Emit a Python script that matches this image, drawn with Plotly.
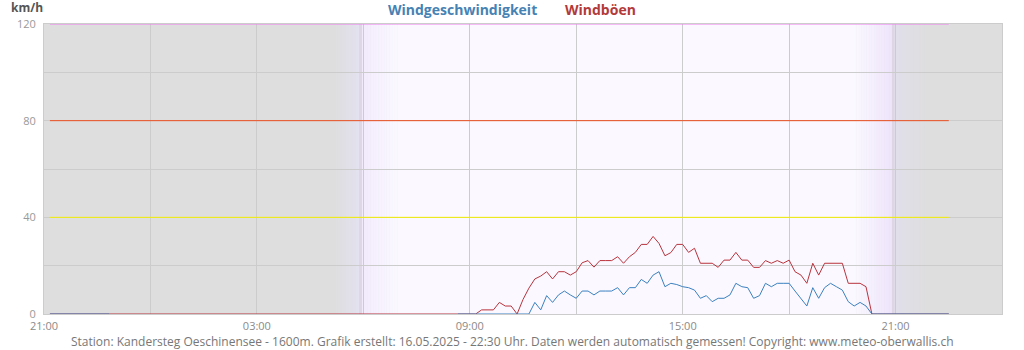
import pandas as pd
import plotly.graph_objects as go
from datetime import datetime, timedelta

# ---------------- data ----------------
day_times = pd.date_range("2025-05-16 08:40", "2025-05-16 22:30", freq="10min")

red_day = [0, 0, 0, 0,
           1.7, 1.7, 1.7, 4.8, 3.3, 3.3, 0,
           6.0, 10.7, 14.5, 15.7, 17.5, 14.5, 17.5, 17.5, 16.1, 17.5,
           21.2, 22.1, 19.4, 22.1, 22.1, 22.1, 23.7, 21.0, 23.7, 25.5,
           28.8, 28.8, 32.1, 29.2, 24.1, 25.4, 28.8, 28.8, 25.5, 27.2,
           21.0, 21.0, 21.0, 19.3, 22.3, 22.3, 25.5, 22.3, 22.3, 19.3,
           19.3, 22.1, 21.0, 22.1, 21.0, 22.3, 17.5, 16.1, 12.7, 21.0,
           16.1, 21.0, 21.0, 21.0, 21.0, 12.7, 12.7, 12.7, 11.3,
           0, 0, 0, 0, 0, 0, 0, 0, 0, 0, 0, 0, 0, 0]

blue_day = [0, 0, 0, 0, 0, 0, 0, 0, 0, 0, 0, 0, 0,
            4.8, 1.7, 7.6, 4.8, 7.9, 9.5, 7.9, 6.5, 9.5, 9.5,
            7.9, 9.5, 9.5, 9.5, 10.9, 7.9, 10.9, 10.9, 14.3, 12.7,
            16.1, 17.5, 11.3, 12.7, 12.2, 11.3, 10.9, 9.9, 6.5, 7.6,
            5.1, 6.5, 6.5, 7.9, 12.7, 11.3, 10.9, 6.5, 7.6, 12.7,
            11.3, 12.7, 12.7, 12.7, 9.5, 6.5, 3.3, 10.9, 6.5, 10.9,
            12.7, 11.3, 9.9, 5.1, 3.3, 4.8, 3.3,
            0, 0, 0, 0, 0, 0, 0, 0, 0, 0, 0, 0, 0, 0]

red_night_times = ["2025-05-15 21:10", "2025-05-16 08:30"]
red_night = [0, 0]
blue_night_times = ["2025-05-15 21:10", "2025-05-15 22:50", "2025-05-15 23:00"]
blue_night = [0, 0, None]

tick_times = ["2025-05-15 21:00", "2025-05-16 00:00", "2025-05-16 03:00",
              "2025-05-16 06:00", "2025-05-16 09:00", "2025-05-16 12:00",
              "2025-05-16 15:00", "2025-05-16 18:00", "2025-05-16 21:00",
              "2025-05-17 00:00"]
tick_text = ["21:00", "", "03:00", "", "09:00", "", "15:00", "", "21:00", ""]
y_ticks = [0, 20, 40, 60, 80, 100, 120]
y_text = ["0", "", "40", "", "80", "", "120"]

thresholds = [120, 80, 40]
threshold_colors = ["#f07ef0", "#ea4f1f", "#f2ee00"]
line_start, line_end = "2025-05-15 21:10", "2025-05-16 22:30"

footer = ("Station: Kandersteg Oeschinensee - 1600m. Grafik erstellt: 16.05.2025 - 22:30 Uhr. "
          "Daten werden automatisch gemessen! Copyright: www.meteo-oberwallis.ch")

# ---------------- figure ----------------
base = datetime(2025, 5, 15, 21, 0)
FONT = "Open Sans"

def t(h):
    return base + timedelta(hours=h)

def hexrgb(c):
    c = c.lstrip("#")
    return [int(c[i:i + 2], 16) for i in (0, 2, 4)]

shapes = []

def rect(h0, h1, color):
    shapes.append(dict(type="rect", xref="x", yref="paper", x0=t(h0), x1=t(h1),
                       y0=0, y1=1, fillcolor=color, line=dict(width=0), layer="below"))

def grad(h0, h1, c0, c1, n=24):
    a, b = hexrgb(c0), hexrgb(c1)
    for i in range(n):
        f = (i + 0.5) / n
        col = "rgb(%d,%d,%d)" % tuple(round(a[k] + (b[k] - a[k]) * f) for k in range(3))
        rect(h0 + (h1 - h0) * i / n, h0 + (h1 - h0) * (i + 1) / n + 0.01, col)

GRAY = "#dedede"
DAY = "#fbf9ff"
rect(0, 8.2, GRAY)
grad(8.17, 8.90, GRAY, "#e4e1f1")
grad(8.93, 10.0, "#f2eafd", DAY)
rect(10.0, 22.8, DAY)
grad(22.8, 23.92, DAY, "#eee4fb")
grad(23.95, 24.9, "#e1dfeb", GRAY)
rect(24.9, 27, GRAY)
rect(8.88, 8.96, "#ded6e4")
rect(23.90, 23.97, "#ded6e4")

for v, c in zip(thresholds, threshold_colors):
    shapes.append(dict(type="line", xref="x", yref="y", x0=line_start, x1=line_end,
                       y0=v, y1=v, line=dict(color=c, width=1), layer="above"))

fig = go.Figure()
fig.add_trace(go.Scatter(x=list(red_night_times) + list(day_times), y=red_night + red_day,
                         mode="lines", line=dict(color="#b8323c", width=1),
                         name="Windböen", connectgaps=False))
fig.add_trace(go.Scatter(x=list(blue_night_times) + list(day_times), y=blue_night + blue_day,
                         mode="lines", line=dict(color="#3a80c0", width=1),
                         name="Windgeschwindigkeit", connectgaps=False))

L, R, T, B = 44, 22, 24, 36
W, H = 1024, 350
pw, ph = W - L - R, H - T - B

def px(x):
    return (x - L) / pw

def py(y):
    return (H - B - y) / ph

def note(text, x, y, size, color):
    return dict(text=text, x=px(x), y=py(y), xref="paper", yref="paper",
                xanchor="center", yanchor="middle", showarrow=False,
                font=dict(family=FONT, size=size, color=color))

annotations = [
    note("<b>km/h</b>", 27, 8, 12, "#555555"),
    note("<b>Windgeschwindigkeit</b>", 462, 10, 14, "#4682b4"),
    note("<b>Windböen</b>", 600, 10, 14, "#b33a3a"),
    note(footer, 512, 341, 12, "#777777"),
]

fig.update_layout(
    width=W, height=H,
    margin=dict(l=L, r=R, t=T, b=B, pad=0),
    paper_bgcolor="white", plot_bgcolor=GRAY,
    showlegend=False,
    shapes=shapes, annotations=annotations,
    font=dict(family=FONT, size=11, color="#999999"),
    xaxis=dict(type="date", range=[t(0), t(27)], tickvals=tick_times, ticktext=tick_text,
               showgrid=True, gridcolor="#cccccc", gridwidth=1,
               showline=True, linecolor="#cccccc", mirror=True, zeroline=False,
               ticks="", ticklabelstandoff=2,
               tickfont=dict(family=FONT, size=11, color="#8a8a8a"),
               fixedrange=True),
    yaxis=dict(range=[0, 120], tickvals=y_ticks, ticktext=y_text,
               showgrid=True, gridcolor="#cccccc", gridwidth=1,
               showline=True, linecolor="#cccccc", mirror=True, zeroline=False,
               ticks="outside", ticklen=5, tickcolor="rgba(0,0,0,0)",
               tickfont=dict(family=FONT, size=11, color="#999999"),
               fixedrange=True),
)

fig.write_html("out.html")
